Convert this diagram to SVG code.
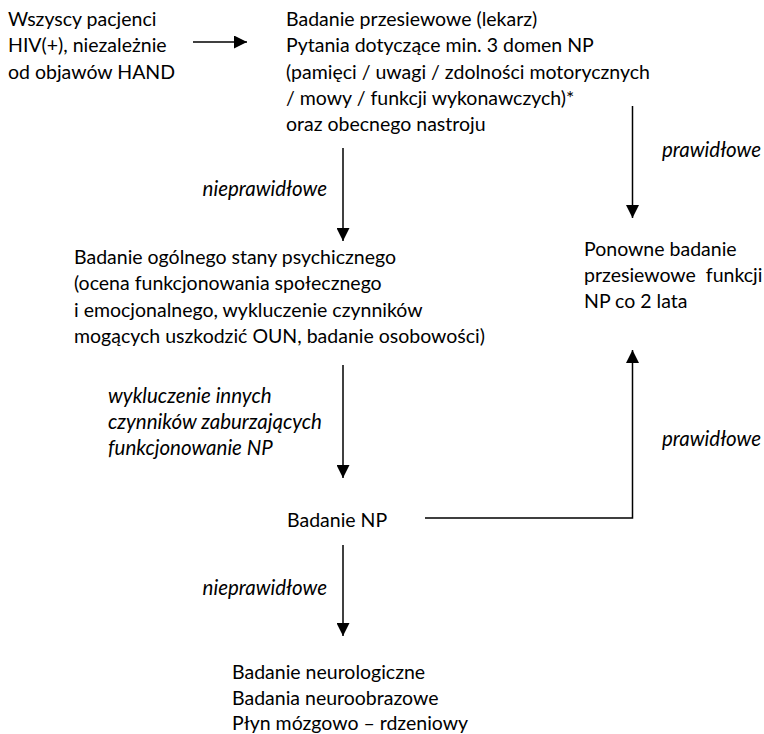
<svg xmlns="http://www.w3.org/2000/svg" width="764" height="734" viewBox="0 0 764 734">
<defs>
<marker id="ah" viewBox="0 0 10 10" refX="10" refY="5" markerWidth="13" markerHeight="13" markerUnits="userSpaceOnUse" orient="auto"><path d="M0,0 L10,5 L0,10 z" fill="#000"/></marker>
</defs>
<style>
text{font-family:Lato,"Open Sans","Liberation Sans",sans-serif;font-size:19.5px;fill:#000}
.i{font-style:italic;font-size:20.5px}
.e{text-anchor:end}
.c{stroke:#000;stroke-width:1.5;fill:none}
</style>
<rect width="764" height="734" fill="#fff"/>
<g id="n1"><text x="8" y="26">Wszyscy pacjenci</text><text x="8" y="52">HIV(+), niezależnie</text><text x="8" y="79">od objawów HAND</text></g>
<g id="n2"><text x="286" y="26">Badanie przesiewowe (lekarz)</text><text x="286" y="52">Pytania dotyczące min. 3 domen NP</text><text x="286" y="79">(pamięci / uwagi / zdolności motorycznych</text><text x="286" y="105">/ mowy / funkcji wykonawczych)*</text><text x="286" y="131">oraz obecnego nastroju</text></g>
<g id="n3"><text x="74" y="264">Badanie ogólnego stany psychicznego</text><text x="74" y="290">(ocena funkcjonowania społecznego</text><text x="74" y="317">i emocjonalnego, wykluczenie czynników</text><text x="74" y="343">mogących uszkodzić OUN, badanie osobowości)</text></g>
<g id="n4"><text x="584" y="256">Ponowne badanie</text><text x="584" y="282">przesiewowe&#160; funkcji</text><text x="584" y="308">NP co 2 lata</text></g>
<g id="n5"><text x="287" y="527">Badanie NP</text></g>
<g id="n6"><text x="232" y="679">Badanie neurologiczne</text><text x="232" y="705">Badania neuroobrazowe</text><text x="232" y="729.5">Płyn mózgowo – rdzeniowy</text></g>
<g id="connectors">
<line class="c" x1="193" y1="42" x2="247" y2="42" marker-end="url(#ah)"/>
<line class="c" x1="343" y1="148" x2="343" y2="241" marker-end="url(#ah)"/>
<line class="c" x1="632.5" y1="106" x2="632.5" y2="218" marker-end="url(#ah)"/>
<line class="c" x1="343" y1="365" x2="343" y2="478" marker-end="url(#ah)"/>
<polyline class="c" points="425,518 632.5,518 632.5,350" marker-end="url(#ah)"/>
<line class="c" x1="343" y1="545" x2="343" y2="636" marker-end="url(#ah)"/>
<text class="i e" x="327" y="196">nieprawidłowe</text>
<text class="i" x="662" y="157">prawidłowe</text>
<text class="i" x="108" y="403">wykluczenie innych</text>
<text class="i" x="108" y="429">czynników zaburzających</text>
<text class="i" x="108" y="455">funkcjonowanie NP</text>
<text class="i" x="662" y="446">prawidłowe</text>
<text class="i e" x="327" y="595">nieprawidłowe</text>
</g>
</svg>
